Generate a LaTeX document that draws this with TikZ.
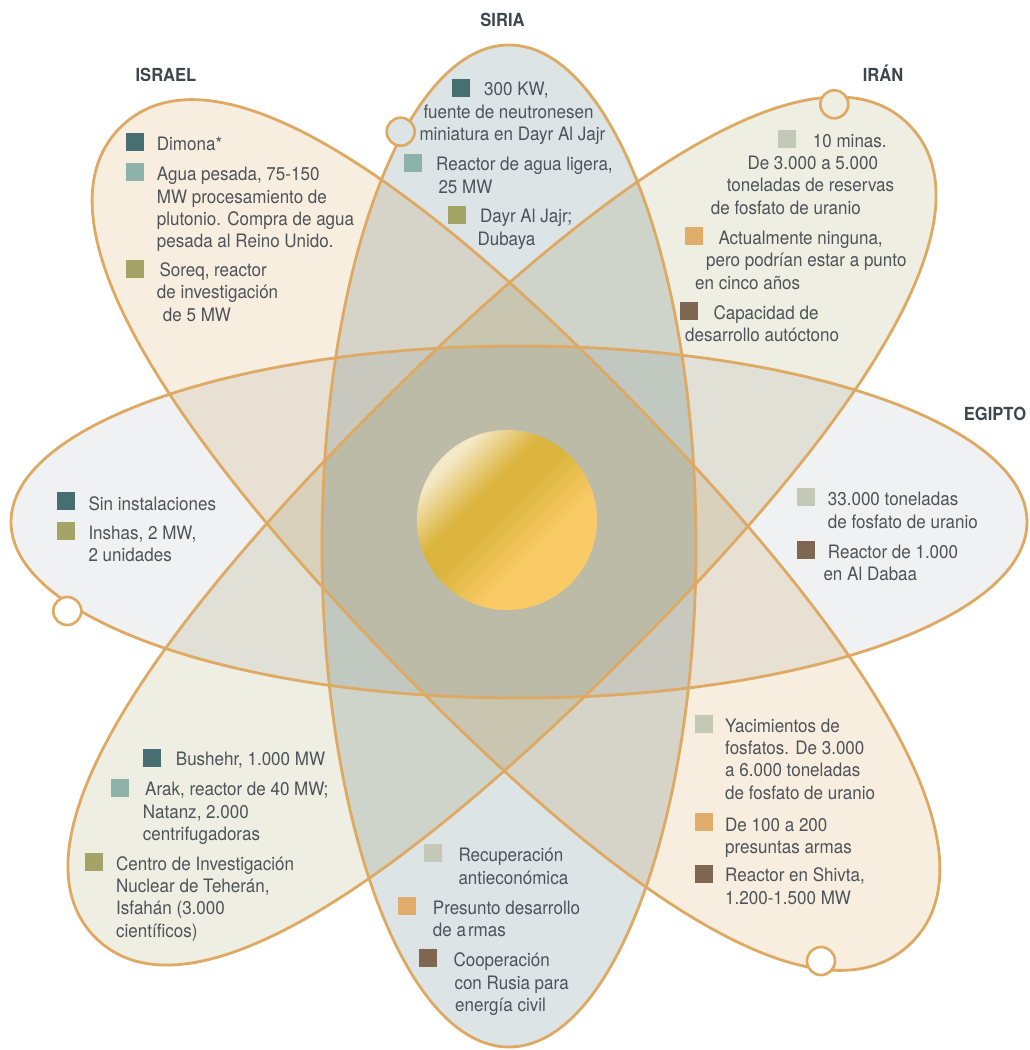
\documentclass[tikz,border=0pt]{standalone}
\usepackage{fontspec}
\setmainfont{TeX Gyre Heros}[FakeStretch=0.92]
\usetikzlibrary{positioning}
\definecolor{orbitline}{HTML}{DEA962}
\definecolor{israelfill}{HTML}{F8EEE0}
\definecolor{iranfill}{HTML}{EEEEE2}
\definecolor{siriafill}{HTML}{DDE4E5}
\definecolor{egiptofill}{HTML}{F0F1F2}
\definecolor{inktext}{HTML}{4D5358}
\definecolor{inklabel}{HTML}{3E474D}
\definecolor{reactor}{HTML}{476E70}
\definecolor{water}{HTML}{8CB2AA}
\definecolor{research}{HTML}{A3A466}
\definecolor{uranium}{HTML}{C4C8B6}
\definecolor{weapons}{HTML}{E0AD6A}
\definecolor{civil}{HTML}{7E6650}
\definecolor{sunlight}{HTML}{F5E8C6}
\definecolor{sungold}{HTML}{DAB43C}
\definecolor{sunwarm}{HTML}{F9CA66}
\pgfdeclarehorizontalshading{sun}{100bp}{color(0bp)=(sunlight); color(27bp)=(sunlight); color(40bp)=(sungold); color(47bp)=(sungold); color(62bp)=(sunwarm); color(100bp)=(sunwarm)}
\newcommand\orbitshape[2]{(#1,0) .. controls (#1,0.65*#2) and (0.65*#1,#2) .. (0,#2)
  .. controls (-0.65*#1,#2) and (-#1,0.65*#2) .. (-#1,0)
  .. controls (-#1,-0.65*#2) and (-0.65*#1,-#2) .. (0,-#2)
  .. controls (0.65*#1,-#2) and (#1,-0.65*#2) .. (#1,0) -- cycle}
\tikzset{
  orbit/.style={draw=orbitline, line width=2.8pt},
  key/.style={rectangle, minimum size=18pt, inner sep=0pt},
  txt/.style={anchor=base west, align=left, inner sep=0pt, text=inktext,
    font=\fontsize{18.5}{22.4}\selectfont},
  country/.style={anchor=base, inner sep=0pt, text=inklabel,
    font=\fontsize{18}{20}\selectfont\bfseries},
  dot/.style={circle, draw=orbitline, line width=2.6pt, minimum size=28pt, inner sep=0pt}
}
\begin{document}
\begin{tikzpicture}[x=1pt, y=-1pt]
  \useasboundingbox (0,0) rectangle (1030,1050);
  \fill[white] (0,0) rectangle (1030,1050);
  \coordinate (cI) at (516,535);
  \coordinate (cR) at (502,531);
  \coordinate (cS) at (509,546);
  \coordinate (cE) at (519,522);

  \begin{scope}[blend mode=multiply]
    \fill[israelfill, shift={(cI)}, rotate=-46] \orbitshape{568}{177};
    \fill[iranfill, shift={(cR)}, rotate=45] \orbitshape{575}{176};
    \fill[siriafill] (cS) ellipse [x radius=187, y radius=501];
    \fill[egiptofill] (cE) ellipse [x radius=508, y radius=176];
  \end{scope}
  \draw[orbit, shift={(cI)}, rotate=-46] \orbitshape{568}{177};
  \draw[orbit, shift={(cR)}, rotate=45] \orbitshape{575}{176};
  \draw[orbit] (cS) ellipse [x radius=187, y radius=501];
  \draw[orbit] (cE) ellipse [x radius=508, y radius=176];

  \node[circle, minimum size=180pt, inner sep=0pt, shading=sun, shading angle=-45] (sun) at (507,520) {};

  \node[dot, fill=siriafill] (dotS) at (400.7,131.7) {};
  \node[dot, fill=iranfill] (dotR) at (834.3,104.3) {};
  \node[dot, fill=white] (dotE) at (67.3,611) {};
  \node[dot, fill=white] (dotI) at (821,961) {};

  \node[country] (israel) at (166,81.7) {ISRAEL};
  \node[country] (siria) at (502.5,26.7) {SIRIA};
  \node[country] (iran) at (883,81.7) {IRÁN};
  \node[country] (egipto) at (995,420) {EGIPTO};

  \node[key, fill=reactor] (i1) at (135,141.7) {};
  \node[txt] (ti1) at (156.7,150) {Dimona*};
  \node[key, fill=water] (i2) at (135,171.7) {};
  \node[txt] (ti2) at (156.7,247.9) {Agua pesada, 75-150\\MW procesamiento de\\plutonio. Compra de agua\\pesada al Reino Unido.};
  \node[key, fill=research] (i3) at (135,269) {};
  \node[txt] (ti3) at (156.7,321) {\hspace*{2.6pt}Soreq, reactor\\de investigación\\\hspace*{6pt}de 5 MW};

  \node[key, fill=reactor] (s1) at (460.8,87.8) {};
  \node[txt] (ts1) at (419.3,140.7) {\hspace*{64.7pt}300 KW,\\\hspace*{4pt}fuente de neutronesen\\miniatura en Dayr Al Jajr};
  \node[key, fill=water] (s2) at (413,163) {};
  \node[txt] (ts2) at (436,193.3) {Reactor de agua ligera,\\\hspace*{2.3pt}25 MW};
  \node[key, fill=research] (s3) at (457.2,215.3) {};
  \node[txt] (ts3) at (477.3,245) {\hspace*{2.7pt}Dayr Al Jajr;\\Dubaya};

  \node[key, fill=uranium] (r1) at (787.2,138.8) {};
  \node[txt] (tr1) at (710.7,214.3) {\hspace*{102pt}10 minas.\\\hspace*{36.6pt}De 3.000 a 5.000\\\hspace*{16pt}toneladas de reservas\\de fosfato de uranio};
  \node[key, fill=weapons] (r2) at (693.8,235.5) {};
  \node[txt] (tr2) at (695,289.3) {\hspace*{23.3pt}Actualmente ninguna,\\\hspace*{11pt}pero podrían estar a punto\\en cinco años};
  \node[key, fill=civil] (r3) at (688.8,311.2) {};
  \node[txt] (tr3) at (685,341.7) {\hspace*{28.3pt}Capacidad de\\desarrollo autóctono};

  \node[key, fill=reactor] (e1) at (65.8,500.8) {};
  \node[txt] (te1) at (88.3,510) {Sin instalaciones};
  \node[key, fill=research] (e2) at (65.8,530.8) {};
  \node[txt] (te2) at (88.3,561.7) {Inshas, 2 MW,\\2 unidades};

  \node[key, fill=uranium] (e3) at (805.8,496.8) {};
  \node[txt] (te3) at (827.7,528.3) {33.000 toneladas\\de fosfato de uranio};
  \node[key, fill=civil] (e4) at (805.8,550) {};
  \node[txt] (te4) at (823.3,580.7) {\hspace*{4.4pt}Reactor de 1.000\\en Al Dabaa};

  \node[key, fill=reactor] (r4) at (151.8,757.8) {};
  \node[txt] (tr4) at (175.7,765.7) {Bushehr, 1.000 MW};
  \node[key, fill=water] (r5) at (120,787.8) {};
  \node[txt] (tr5) at (142.7,840.7) {\hspace*{2.3pt}Arak, reactor de 40 MW;\\Natanz, 2.000\\centrifugadoras};
  \node[key, fill=research] (r6) at (94.2,862.2) {};
  \node[txt] (tr6) at (116,937.3) {Centro de Investigación\\Nuclear de Teherán,\\Isfahán (3.000\\científicos)};

  \node[key, fill=uranium] (s4) at (432.8,853) {};
  \node[txt] (ts4) at (458.3,884.3) {Recuperación\\antieconómica};
  \node[key, fill=weapons] (s5) at (407.2,906.2) {};
  \node[txt] (ts5) at (432.7,936.7) {Presunto desarrollo\\de a\hspace{2pt}rmas};
  \node[key, fill=civil] (s6) at (428.2,957.8) {};
  \node[txt] (ts6) at (453.3,1011.7) {Cooperación\\\hspace*{1pt}con Rusia para\\\hspace*{1.7pt}energía civil};

  \node[key, fill=uranium] (i4) at (703.8,723.8) {};
  \node[txt] (ti4) at (725,799.3) {Yacimientos de\\fosfatos. De 3.000\\a 6.000 toneladas\\de fosfato de uranio};
  \node[key, fill=weapons] (i5) at (703.8,822.2) {};
  \node[txt] (ti5) at (725,853.4) {De 100 a 200\\presuntas armas};
  \node[key, fill=civil] (i6) at (703.8,873.8) {};
  \node[txt] (ti6) at (725,904) {Reactor en Shivta,\\1.200-1.500 MW};
\end{tikzpicture}
\end{document}
